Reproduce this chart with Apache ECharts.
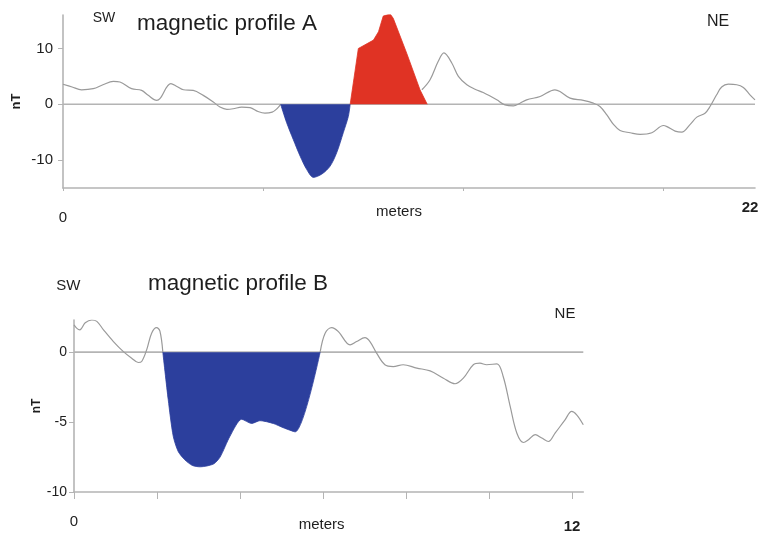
<!DOCTYPE html>
<html>
<head>
<meta charset="utf-8">
<script src="https://cdn.jsdelivr.net/npm/echarts@6/dist/echarts.min.js"></script>
<style>
html,body{margin:0;padding:0;background:#fff;}
#chart{width:766px;height:533px;}
</style>
</head>
<body>
<div id="chart"></div>
<script>
// ---------- Data (meters, nT) ----------
// Profile A
const profileA_left = [[0,3.6],[0.29,3.1],[0.59,2.6],[0.96,2.8],[1.27,3.5],[1.6,4.1],[1.81,4.0],[2.18,2.8],[2.5,2.5],[2.71,1.6],[2.98,0.7],[3.08,1.0],[3.43,3.7],[3.62,3.2],[3.83,2.6],[4.14,2.5],[4.46,1.6],[4.78,0.4],[4.99,-0.5],[5.21,-0.9],[5.41,-0.8],[5.68,-0.5],[5.95,-0.6],[6.2,-1.3],[6.42,-1.6],[6.65,-1.4],[6.8,-0.8],[6.92,0]];
const profileA_neg = [[6.92,0],[7.11,-3.3],[7.32,-6.3],[7.54,-9.3],[7.75,-11.7],[7.96,-13.1],[8.23,-12.5],[8.49,-11.1],[8.7,-8.7],[8.91,-5.1],[9.07,-2.2],[9.13,0]];
const profileA_pos = [[9.13,0],[9.39,10.0],[9.87,11.5],[10.03,13.0],[10.18,15.8],[10.4,16.2],[10.5,15.4],[10.93,9.1],[11.35,2.6],[11.58,0]];
const profileA_right = [[11.41,2.6],[11.67,4.4],[11.93,7.7],[12.11,9.2],[12.36,7.4],[12.57,5.0],[12.84,3.5],[13.1,2.7],[13.36,2.1],[13.79,0.8],[14.05,-0.1],[14.32,-0.3],[14.53,0.2],[14.74,0.8],[15.17,1.4],[15.64,2.6],[15.8,2.3],[16.12,1.1],[16.54,0.7],[16.86,0.2],[17.07,-0.4],[17.29,-1.9],[17.5,-3.6],[17.71,-4.7],[18.03,-5.1],[18.35,-5.4],[18.72,-5.1],[19.09,-3.8],[19.2,-4.0],[19.46,-4.8],[19.67,-5.0],[19.94,-3.6],[20.15,-2.3],[20.41,-1.6],[20.57,-0.4],[20.78,1.7],[20.94,3.1],[21.15,3.6],[21.42,3.5],[21.63,3.0],[21.84,1.7],[22.0,0.8]];
const zeroA = [[0,0],[22,0]];
const xTicksA = [0, 6.36, 12.72, 19.08];
const xLabelsA = [0, 22];
const yTicksA = [-10, 0, 10];

// Profile B
const profileB_left = [[0,1.95],[0.07,1.7],[0.14,1.6],[0.27,2.1],[0.43,2.3],[0.55,2.2],[0.71,1.6],[0.95,0.76],[1.19,0.04],[1.39,-0.43],[1.55,-0.74],[1.63,-0.67],[1.75,0.16],[1.87,1.36],[1.99,1.76],[2.07,1.5],[2.14,0]];
const profileB_neg = [[2.14,0],[2.27,-3.4],[2.39,-6.0],[2.51,-7.1],[2.67,-7.7],[2.85,-8.1],[3.04,-8.2],[3.36,-8.0],[3.52,-7.5],[3.76,-6.0],[4.04,-4.8],[4.28,-5.1],[4.48,-4.9],[4.8,-5.1],[5.04,-5.4],[5.33,-5.7],[5.93,0]];
const profileB_right = [[5.93,0],[6.05,1.36],[6.21,1.76],[6.37,1.47],[6.65,0.52],[6.81,0.76],[7.01,1.04],[7.13,0.76],[7.29,-0.07],[7.49,-0.9],[7.69,-1.03],[7.93,-0.9],[8.26,-1.14],[8.58,-1.34],[8.9,-1.86],[9.18,-2.26],[9.38,-1.86],[9.62,-0.9],[9.78,-0.79],[9.94,-0.9],[10.19,-0.84],[10.34,-1.74],[10.51,-3.9],[10.67,-5.8],[10.83,-6.46],[10.95,-6.26],[11.11,-5.9],[11.27,-6.14],[11.43,-6.39],[11.59,-5.79],[11.83,-4.84],[11.99,-4.24],[12.11,-4.48],[12.27,-5.19]];
const zeroB = [[0,0],[12.27,0]];
const xTicksB = [0, 2, 4, 6, 8, 10, 12];
const xLabelsB = [0, 12];
const yTicksB = [-10, -5, 0];

// ---------- Styling ----------
const FONT = '"Liberation Sans", Arial, sans-serif';
const NARROW = '"Liberation Sans Narrow", "Liberation Sans", Arial, sans-serif';
const AXIS = '#b4b4b4';
const CURVE = '#9a9a9a';
const BLUE = '#2c3f9d';
const RED = '#e03324';
const TXT = '#1e1e1e';

const chart = echarts.init(document.getElementById('chart'), null, {renderer: 'canvas'});

function curve(data, xi) {
  return {type: 'line', data: data, xAxisIndex: xi, yAxisIndex: xi, showSymbol: false, symbol: 'none',
    smooth: 0.35, lineStyle: {color: CURVE, width: 1.2}, z: 3, silent: true};
}
function fill(data, xi, color, smooth) {
  return {type: 'line', data: data, xAxisIndex: xi, yAxisIndex: xi, showSymbol: false, symbol: 'none',
    smooth: smooth, lineStyle: {color: color, width: 0.8}, areaStyle: {color: color, opacity: 1, origin: 0}, z: 4, silent: true};
}
function zero(data, xi) {
  return {type: 'line', data: data, xAxisIndex: xi, yAxisIndex: xi, showSymbol: false, symbol: 'none',
    lineStyle: {color: AXIS, width: 1.6}, z: 2, silent: true};
}

const option = {
  animation: false,
  backgroundColor: '#fff',
  grid: [
    {left: 63, top: 15, width: 692, height: 173, outerBoundsMode: 'none', containLabel: false},
    {left: 74, top: 320, width: 509.3, height: 172, outerBoundsMode: 'none', containLabel: false}
  ],
  xAxis: [
    {gridIndex: 0, type: 'value', min: 0, max: 22,
      axisLine: {show: true, onZero: false, lineStyle: {color: AXIS, width: 1.6}},
      axisTick: {show: true, customValues: xTicksA, length: 3, lineStyle: {color: AXIS}},
      axisLabel: {show: true, customValues: xLabelsA, margin: 12,
        formatter: v => v === 0 ? '{lo|' + v + '}' : '{hi|' + v + '}',
        rich: {lo: {fontFamily: FONT, fontSize: 15, color: TXT, padding: [10, 0, 0, 0]},
               hi: {fontFamily: FONT, fontSize: 15, fontWeight: 'bold', color: TXT, padding: [0, 10, 0, 0]}}},
      splitLine: {show: false},
      name: 'meters', nameLocation: 'middle', nameGap: 16, nameMoveOverlap: false,
      nameTextStyle: {fontFamily: FONT, fontSize: 15, color: TXT, padding: [0, 20, 0, 0]}},
    {gridIndex: 1, type: 'value', min: 0, max: 12.27,
      axisLine: {show: true, onZero: false, lineStyle: {color: AXIS, width: 1.6}},
      axisTick: {show: true, customValues: xTicksB, length: 7, lineStyle: {color: AXIS}},
      axisLabel: {show: true, customValues: xLabelsB, margin: 22,
        formatter: v => v === 0 ? '{lo|' + v + '}' : '{hi|' + v + '}',
        rich: {lo: {fontFamily: FONT, fontSize: 15, color: TXT},
               hi: {fontFamily: FONT, fontSize: 15, fontWeight: 'bold', color: TXT, padding: [5, 0, 0, 0]}}},
      splitLine: {show: false},
      name: 'meters', nameLocation: 'middle', nameGap: 25, nameMoveOverlap: false,
      nameTextStyle: {fontFamily: FONT, fontSize: 15, color: TXT, padding: [0, 14, 0, 0]}}
  ],
  yAxis: [
    {gridIndex: 0, type: 'value', min: -15, max: 16,
      axisLine: {show: true, onZero: false, lineStyle: {color: AXIS, width: 1.6}},
      axisTick: {show: true, customValues: yTicksA, length: 5, lineStyle: {color: AXIS}},
      axisLabel: {show: true, customValues: yTicksA, margin: 10, fontFamily: FONT, fontSize: 15, color: TXT},
      splitLine: {show: false},
      name: 'nT', nameLocation: 'middle', nameGap: 40, nameMoveOverlap: false,
      nameTextStyle: {fontFamily: FONT, fontSize: 13, fontWeight: 'bold', color: TXT}},
    {gridIndex: 1, type: 'value', min: -10, max: 2.3,
      axisLine: {show: true, onZero: false, lineStyle: {color: AXIS, width: 1.6}},
      axisTick: {show: true, customValues: yTicksB, length: 5, lineStyle: {color: AXIS}},
      axisLabel: {show: true, customValues: yTicksB, margin: 7, fontFamily: FONT, fontSize: 14, color: TXT},
      splitLine: {show: false},
      name: 'nT', nameLocation: 'middle', nameGap: 31, nameMoveOverlap: false,
      nameTextStyle: {fontFamily: FONT, fontSize: 12, fontWeight: 'bold', color: TXT}}
  ],
  graphic: [
    {type: 'text', x: 137, y: 23.4, style: {text: 'magnetic profile A', font: '22.5px ' + FONT, fill: TXT, align: 'left', verticalAlign: 'middle'}},
    {type: 'text', x: 104, y: 18.5, style: {text: 'SW', font: '14px ' + FONT, fill: TXT, align: 'center', verticalAlign: 'middle'}},
    {type: 'text', x: 718, y: 21.7, style: {text: 'NE', font: '16px ' + FONT, fill: TXT, align: 'center', verticalAlign: 'middle'}},
    {type: 'text', x: 148, y: 283.7, style: {text: 'magnetic profile B', font: '22.5px ' + FONT, fill: TXT, align: 'left', verticalAlign: 'middle'}},
    {type: 'text', x: 68.3, y: 285.8, style: {text: 'SW', font: '15px ' + NARROW, fill: TXT, align: 'center', verticalAlign: 'middle'}},
    {type: 'text', x: 565, y: 313.8, style: {text: 'NE', font: '15px ' + NARROW, fill: TXT, align: 'center', verticalAlign: 'middle'}}
  ],
  series: [
    zero(zeroA, 0),
    curve(profileA_left, 0),
    curve(profileA_right, 0),
    fill(profileA_neg, 0, BLUE, 0.3),
    fill(profileA_pos, 0, RED, false),
    zero(zeroB, 1),
    curve(profileB_left, 1),
    curve(profileB_right, 1),
    fill(profileB_neg, 1, BLUE, 0.25)
  ]
};
chart.setOption(option);
</script>
</body>
</html>
